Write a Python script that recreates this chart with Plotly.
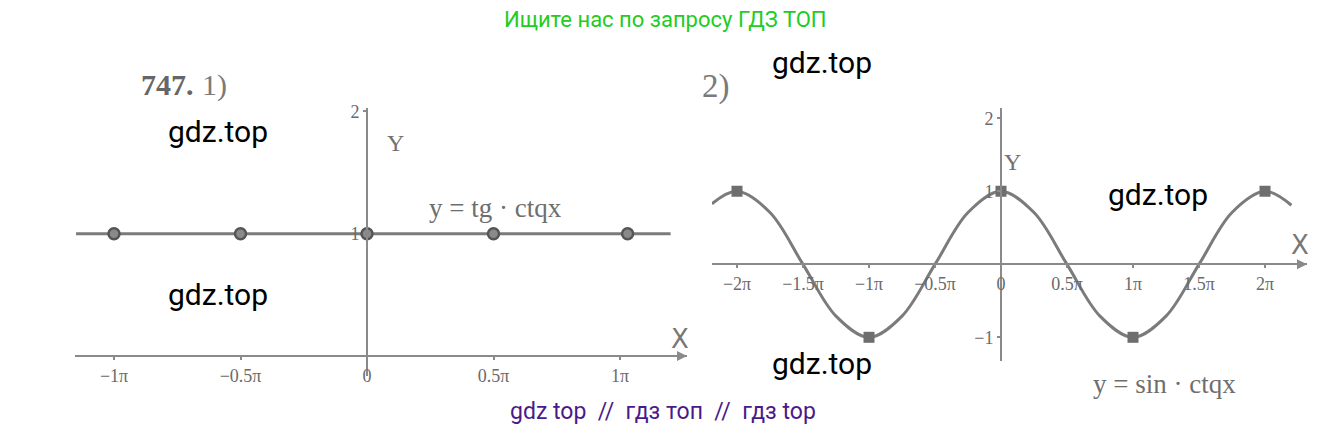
import plotly.graph_objects as go

W, H = 1331, 429

# --- data (x in units of pi) ---
# 1) y = tg x * ctg x  -> horizontal line y = 1 with punctured points
line1_x = [-1.15, 1.20]
line1_y = [1, 1]
holes1_x = [-1, -0.5, 0, 0.5, 1.03]
holes1_y = [1, 1, 1, 1, 1]
ticks1_x = [-1, -0.5, 0, 0.5, 1]
ticks1_text = ["\u22121\u03c0", "\u22120.5\u03c0", "0", "0.5\u03c0", "1\u03c0"]
ticks1_y = [1, 2]
ticks1_ytext = ["1", "2"]

# 2) y = sin x * ctg x -> cos x with punctured points
curve2_x = [-2.19, -2, -1.75, -1.5, -1.25, -1, -0.75, -0.5, -0.25, 0,
            0.25, 0.5, 0.75, 1, 1.25, 1.5, 1.75, 2, 2.2]
curve2_y = [0.83, 1, 0.71, 0, -0.71, -1, -0.71, 0, 0.71, 1,
            0.71, 0, -0.71, -1, -0.71, 0, 0.71, 1, 0.81]
holes2_x = [-2, -1, 0, 1, 2]
holes2_y = [1, -1, 1, -1, 1]
ticks2_x = [-2, -1.5, -1, -0.5, 0, 0.5, 1, 1.5, 2]
ticks2_text = ["\u22122\u03c0", "\u22121.5\u03c0", "\u22121\u03c0", "\u22120.5\u03c0", "0",
               "0.5\u03c0", "1\u03c0", "1.5\u03c0", "2\u03c0"]
ticks2_y = [-1, 1, 2]
ticks2_ytext = ["\u22121", "1", "2"]

GRAY = "#7b7b7b"
AXIS = "#8a8a8a"
SERIF = "Liberation Serif, serif"


def px(x):
    return x / W


def py(y):
    return 1 - y / H


fig = go.Figure()

fig.add_trace(go.Scatter(x=line1_x, y=line1_y, mode="lines",
                         line=dict(color=GRAY, width=3), xaxis="x", yaxis="y"))
fig.add_trace(go.Scatter(x=holes1_x, y=holes1_y, mode="markers",
                         marker=dict(symbol="circle", size=11, color="#8a8a8a",
                                     line=dict(color="#555555", width=2.5)),
                         xaxis="x", yaxis="y"))

fig.add_trace(go.Scatter(x=curve2_x, y=curve2_y, mode="lines",
                         line=dict(color=GRAY, width=3, shape="spline", smoothing=1.0),
                         xaxis="x2", yaxis="y2"))
fig.add_trace(go.Scatter(x=holes2_x, y=holes2_y, mode="markers",
                         marker=dict(symbol="square", size=11, color="#6e6e6e"),
                         xaxis="x2", yaxis="y2"))

axis_common = dict(showgrid=False, zeroline=False, showline=True, linecolor=AXIS,
                   linewidth=2, ticks="outside", ticklen=3, tickwidth=1.5,
                   tickcolor=AXIS, anchor="free",
                   tickfont=dict(family=SERIF, size=18, color="#6a6a6a"))

# left panel: x-axis at pixel y=355, y-axis at pixel x=367, pi = 253 px, 1 = 124 px
r1x = [(75 - 367) / 253, (687 - 367) / 253]
r1y = [-(375 - 355) / 124, (355 - 103) / 124]
# right panel: x-axis at pixel y=262, y-axis at pixel x=1001, pi = 132 px, 1 = 74 px
r2x = [(712 - 1001) / 132, (1307 - 1001) / 132]
r2y = [-(360 - 262) / 74, (262 - 103) / 74]

fig.update_layout(
    width=W, height=H,
    margin=dict(l=0, r=0, t=0, b=0),
    paper_bgcolor="white", plot_bgcolor="white",
    showlegend=False,
    xaxis=dict(axis_common, domain=[px(75), px(687)], range=r1x, position=py(355),
               tickvals=ticks1_x, ticktext=ticks1_text, ticklabelstandoff=0),
    yaxis=dict(axis_common, domain=[py(375), py(103)], range=r1y, position=px(367),
               tickvals=ticks1_y, ticktext=ticks1_ytext),
    xaxis2=dict(axis_common, domain=[px(712), px(1307)], range=r2x, position=py(262),
                tickvals=ticks2_x, ticktext=ticks2_text, ticklabelstandoff=0),
    yaxis2=dict(axis_common, domain=[py(360), py(103)], range=r2y, position=px(1001),
                tickvals=ticks2_y, ticktext=ticks2_ytext),
)

# axis arrows
for xr, yr, xref, yref in [(r1x, r1y, "x", "y"), (r2x, r2y, "x2", "y2")]:
    fig.add_annotation(x=xr[1], y=0, ax=xr[1] - 0.08, ay=0, xref=xref, yref=yref,
                       axref=xref, ayref=yref, text="", showarrow=True,
                       arrowhead=2, arrowsize=1, arrowwidth=2, arrowcolor=AXIS)


def txt(x, y, s, size, color, family=SERIF, xanchor="center", bold=False):
    if bold:
        s = "<b>" + s + "</b>"
    fig.add_annotation(x=px(x), y=py(y), xref="paper", yref="paper", text=s,
                       showarrow=False, xanchor=xanchor, yanchor="middle",
                       font=dict(family=family, size=size, color=color))


# textbook labels
txt(139, 80, "747.", 30, "#666666", xanchor="left", bold=True)
txt(200, 80, "1)", 30, "#7a7a7a", xanchor="left")
txt(716, 82, "2)", 33, "#7a7a7a")
txt(395, 139, "Y", 24, "#727272")
txt(1012, 158, "Y", 24, "#727272")
txt(680, 338, "X", 26, "#777777", family="DejaVu Sans ExtraLight, DejaVu Sans, sans-serif")
txt(1300, 242, "X", 26, "#777777", family="DejaVu Sans ExtraLight, DejaVu Sans, sans-serif")
txt(495, 205, "y = tg \u00b7 ctqx", 27, "#6e6e6e")
txt(1164, 383, "y = sin \u00b7 ctqx", 27, "#6e6e6e")

# watermarks
txt(665, 14, "Ищите нас по запросу ГДЗ ТОП", 22, "#22cc22", family="Roboto")
txt(663, 411, "gdz top  //  гдз топ  //  гдз top", 23, "#4a1a8a", family="Roboto")
for wx, wy in [(218, 127), (218, 293), (822, 57), (1158, 191), (822, 363)]:
    txt(wx, wy, "gdz.top", 30, "#000000", family="Roboto")

# remove the default 8px page margin so figure pixels line up with the window
fig.write_html("out.html", config={"displayModeBar": False},
               post_script="document.body.style.margin='0';")
